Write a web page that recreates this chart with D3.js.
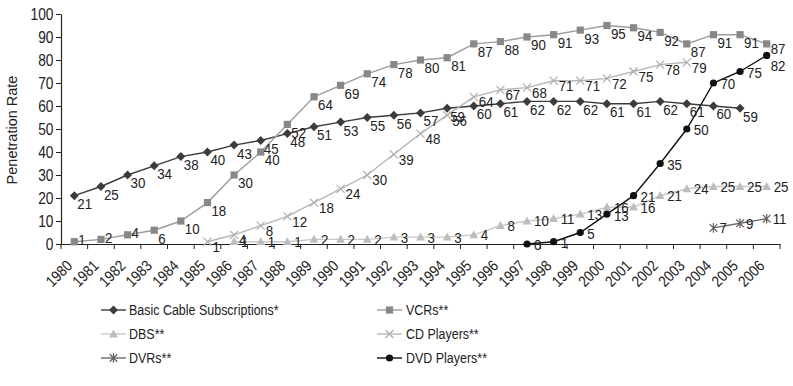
<!DOCTYPE html>
<html>
<head>
<meta charset="utf-8">
<script src="https://cdn.jsdelivr.net/npm/d3@7"></script>
<style>
  body { margin: 0; background: #fff; }
  svg text { font-family: "Liberation Sans", Arial, sans-serif; fill: #222; }
</style>
</head>
<body>
<svg id="chart" width="793" height="386"></svg>
<script>
// Household penetration rates of media technologies, 1980-2006 (percent)
const years = [1980, 1981, 1982, 1983, 1984, 1985, 1986, 1987, 1988, 1989, 1990, 1991, 1992, 1993,
               1994, 1995, 1996, 1997, 1998, 1999, 2000, 2001, 2002, 2003, 2004, 2005, 2006];

const basicCable = [21, 25, 30, 34, 38, 40, 43, 45, 48, 51, 53, 55, 56, 57, 59, 60, 61, 62, 62, 62, 61, 61, 62, 61, 60, 59, null];
const vcrs       = [1, 2, 4, 6, 10, 18, 30, 40, 52, 64, 69, 74, 78, 80, 81, 87, 88, 90, 91, 93, 95, 94, 92, 87, 91, 91, 87];
const dbs        = [null, null, null, null, null, null, 1, 1, 1, 2, 2, 2, 3, 3, 3, 4, 8, 10, 11, 13, 16, 16, 21, 24, 25, 25, 25];
const cdPlayers  = [null, null, null, null, null, 1, 4, 8, 12, 18, 24, 30, 39, 48, 56, 64, 67, 68, 71, 71, 72, 75, 78, 79, null, null, null];
const dvrs       = [null, null, null, null, null, null, null, null, null, null, null, null, null, null,
                    null, null, null, null, null, null, null, null, null, null, 7, 9, 11];
const dvdPlayers = [null, null, null, null, null, null, null, null, null, null, null, null, null, null,
                    null, null, null, 0, 1, 5, 13, 21, 35, 50, 70, 75, 82];

const yTicks = [0, 10, 20, 30, 40, 50, 60, 70, 80, 90, 100];

// Series appearance: name, values, marker shape, colours, label offset
const series = [
  { name: "Basic Cable Subscriptions*", values: basicCable, shape: "diamond",  line: "#3c3c3c", mark: "#3c3c3c", dx: 3, dy: 8 },
  { name: "VCRs**",                     values: vcrs,       shape: "square",   line: "#9c9c9c", mark: "#888888", dx: 4, dy: 8 },
  { name: "DBS**",                      values: dbs,        shape: "triangle", line: "#c8c8c8", mark: "#bdbdbd", dx: 7, dy: 0 },
  { name: "CD Players**",               values: cdPlayers,  shape: "cross",    line: "#b6b6b6", mark: "#adadad", dx: 5, dy: 5 },
  { name: "DVRs**",                     values: dvrs,       shape: "star",     line: "#6a6a6a", mark: "#666666", dx: 6, dy: 0 },
  { name: "DVD Players**",              values: dvdPlayers, shape: "circle",   line: "#111111", mark: "#111111", dx: 7, dy: 1 }
];

// Individual label nudges where labels would collide at the right edge
const labelNudge = { "DVD Players**|2006": [-3, 9], "VCRs**|2006": [0, -3] };

const svg = d3.select("#chart");
const plot = { left: 61, right: 780, top: 14, bottom: 244 };
const SQ = 0.86;           // horizontal squeeze giving the condensed lettering
const LABEL_SIZE = 15.5;

const x = d3.scaleBand().domain(years).range([plot.left, plot.right]);
const xc = yr => x(yr) + x.bandwidth() / 2;
const y = d3.scaleLinear().domain([0, 100]).range([plot.bottom, plot.top]);

// Marker drawing
function marker(g, shape, color) {
  switch (shape) {
    case "diamond":
      g.append("path").attr("d", "M0,-4.5L4.5,0L0,4.5L-4.5,0Z").attr("fill", color);
      break;
    case "square":
      g.append("rect").attr("x", -3.6).attr("y", -3.6).attr("width", 7.2).attr("height", 7.2).attr("fill", color);
      break;
    case "triangle":
      g.append("path").attr("d", "M0,-4.6L4.4,3.4L-4.4,3.4Z").attr("fill", color);
      break;
    case "cross":
      g.append("path").attr("d", "M-4,-4L4,4M-4,4L4,-4").attr("stroke", color).attr("stroke-width", 1.2).attr("fill", "none");
      break;
    case "star":
      g.append("path").attr("d", "M-3.8,-3.8L3.8,3.8M-3.8,3.8L3.8,-3.8M0,-4.8L0,4.8")
        .attr("stroke", color).attr("stroke-width", 1.3).attr("fill", "none");
      break;
    case "circle":
      g.append("circle").attr("r", 3.6).attr("fill", color);
      break;
  }
}

// Y axis
const yAxis = svg.append("g")
  .attr("transform", `translate(${plot.left},0)`)
  .call(d3.axisLeft(y).tickValues(yTicks).tickSize(5).tickSizeOuter(0));
yAxis.select(".domain").attr("stroke", "#222").attr("stroke-width", 1.2);
yAxis.selectAll(".tick line").attr("stroke", "#222");
yAxis.selectAll(".tick text")
  .attr("font-size", 16).attr("fill", "#222")
  .style("font-family", '"Liberation Sans", Arial, sans-serif')
  .attr("x", 0).attr("dy", "0.35em")
  .attr("transform", `translate(-7.5,0) scale(${SQ},1)`);

// X axis: labels at band centres, tick marks at band boundaries
const xAxis = svg.append("g")
  .attr("transform", `translate(0,${plot.bottom})`)
  .call(d3.axisBottom(x).tickSize(0).tickSizeOuter(0));
xAxis.select(".domain").attr("stroke", "#222").attr("stroke-width", 1.2);
xAxis.selectAll(".tick text")
  .attr("font-size", 15.5).attr("fill", "#222")
  .style("font-family", '"Liberation Sans", Arial, sans-serif')
  .attr("text-anchor", "end")
  .attr("x", 0).attr("y", 0).attr("dy", "0.35em")
  .attr("transform", `translate(-5,19) rotate(-45) scale(${SQ},1)`);
const bounds = years.map(yr => x(yr)).concat([plot.right]);
xAxis.selectAll("line.bound").data(bounds).join("line")
  .attr("class", "bound")
  .attr("x1", d => d).attr("x2", d => d)
  .attr("y1", 0).attr("y2", 5)
  .attr("stroke", "#222");

// Y axis title
svg.append("text")
  .attr("transform", `translate(17,130) rotate(-90)`)
  .attr("text-anchor", "middle")
  .attr("font-size", 14.5)
  .text("Penetration Rate");

// Lines
const line = d3.line()
  .defined(d => d.v !== null)
  .x(d => xc(d.yr))
  .y(d => y(d.v));

series.forEach(s => {
  s.points = years.map((yr, i) => ({ yr, v: s.values[i] }));
  svg.append("path")
    .datum(s.points)
    .attr("d", line)
    .attr("fill", "none")
    .attr("stroke", s.line)
    .attr("stroke-width", 1.4);
});

// Markers
series.forEach(s => {
  const pts = s.points.filter(d => d.v !== null);
  svg.append("g").selectAll("g").data(pts).join("g")
    .attr("transform", d => `translate(${xc(d.yr)},${y(d.v)})`)
    .each(function () { marker(d3.select(this), s.shape, s.mark); });
});

// Data labels
series.forEach(s => {
  const pts = s.points.filter(d => d.v !== null);
  svg.append("g").selectAll("text").data(pts).join("text")
    .attr("transform", d => {
      const n = labelNudge[`${s.name}|${d.yr}`] || [0, 0];
      const lx = xc(d.yr) + s.dx + n[0];
      const ly = y(d.v) + (d.v < 5 && s.shape === "square" ? -2 : s.dy) + n[1];
      return `translate(${lx},${ly}) scale(${SQ},1)`;
    })
    .attr("dy", "0.35em")
    .attr("font-size", LABEL_SIZE)
    .text(d => d.v);
});

// Legend
const legendRows = [310, 334, 358];
const legendCols = [{ lx: 101, tx: 129 }, { lx: 377, tx: 406 }];
series.forEach((s, i) => {
  const col = legendCols[i % 2];
  const row = legendRows[Math.floor(i / 2)];
  const g = svg.append("g").attr("transform", `translate(${col.lx},${row})`);
  g.append("line").attr("x1", 0).attr("x2", 25).attr("y1", 0).attr("y2", 0)
    .attr("stroke", s.line).attr("stroke-width", 1.4);
  marker(g.append("g").attr("transform", "translate(12.5,0)"), s.shape, s.mark);
  svg.append("text")
    .attr("transform", `translate(${col.tx},${row}) scale(${SQ},1)`)
    .attr("dy", "0.35em")
    .attr("font-size", 14.5)
    .text(s.name);
});
</script>
</body>
</html>
